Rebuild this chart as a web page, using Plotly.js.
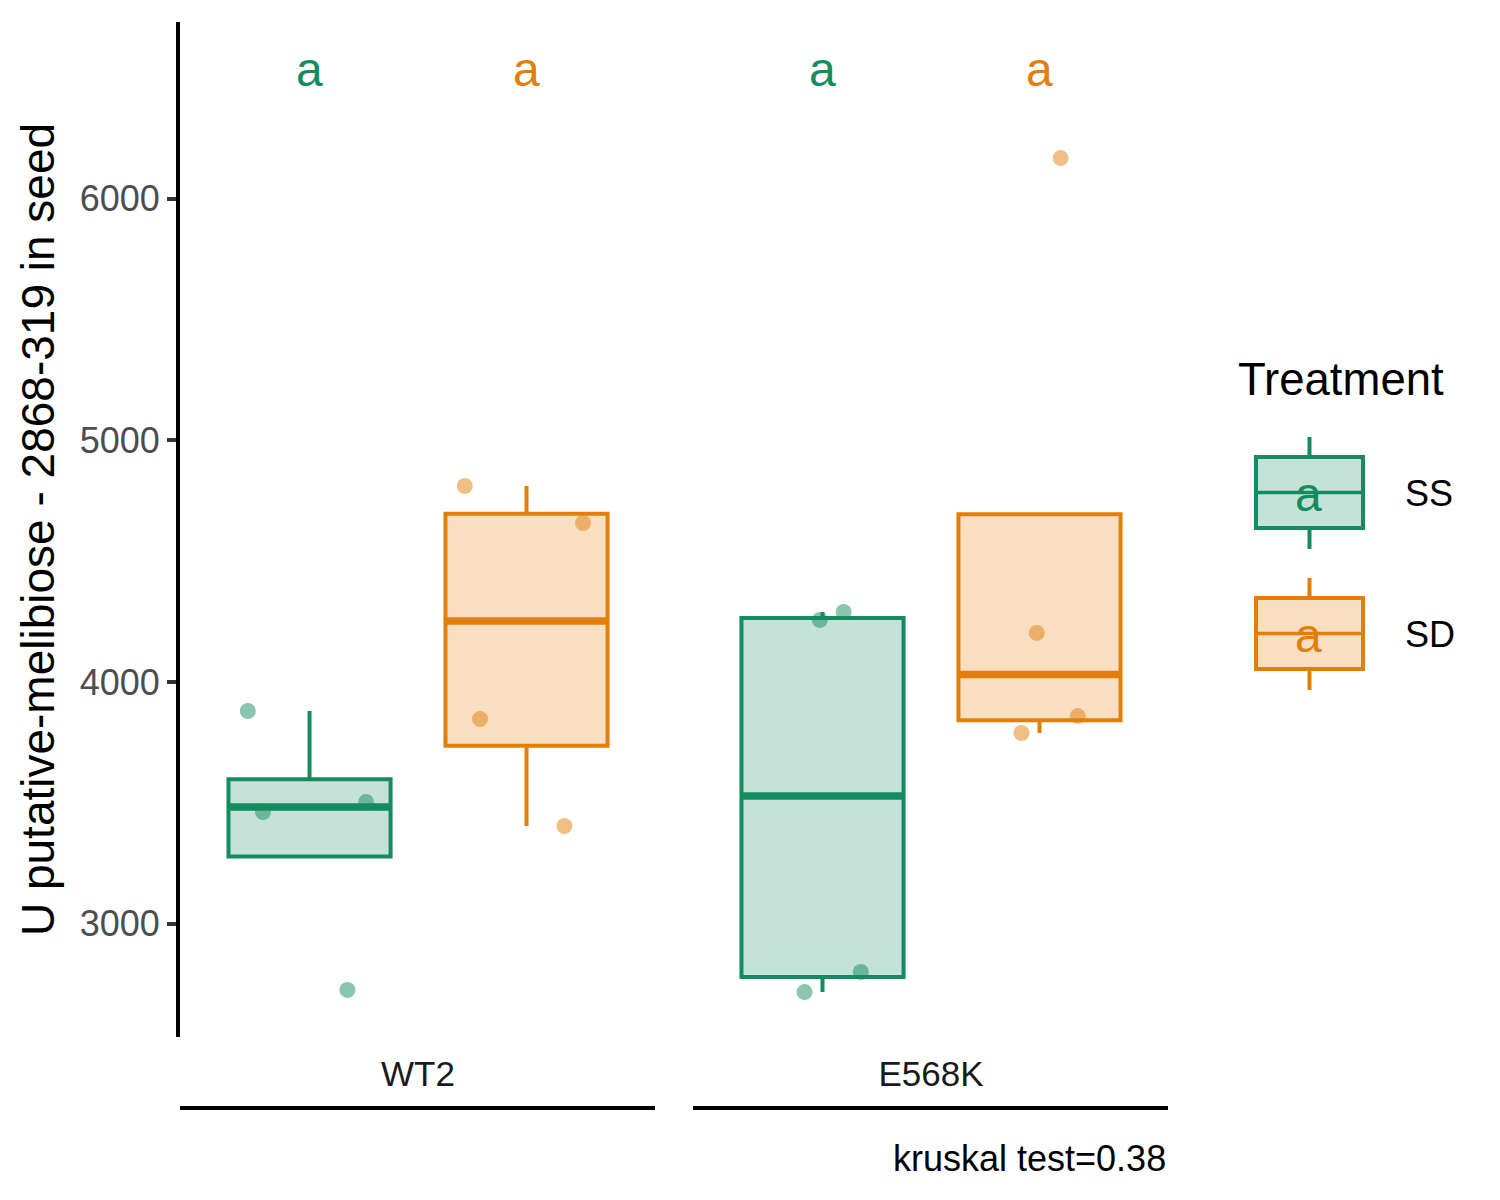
<!DOCTYPE html>
<html>
<head>
<meta charset="utf-8">
<script src="https://cdn.plot.ly/plotly-3.0.1.min.js"></script>
<style>
  html, body { margin: 0; padding: 0; background: #fff; }
  #chart { width: 1500px; height: 1200px; }
</style>
</head>
<body>
<div id="chart"></div>
<script>
// values
const genotypes = ['WT2', 'E568K'];
const treatments = ['SS', 'SD'];
const ssValues = [[2726, 3462, 3503, 3880], [2717, 2800, 4257, 4290]];
const sdValues = [[3404, 3847, 4658, 4811], [3789, 3859, 4203, 6168]];
const letterSS = ['a', 'a'];
const letterSD = ['a', 'a'];
const letterLevel = 6535;
const caption = 'kruskal test=0.38';
const yTitle = 'U putative-melibiose - 2868-319 in seed';

const colors = { SS: 'rgb(20,140,96)', SD: 'rgb(226,127,12)' };
const fills = { SS: 'rgba(20,140,96,0.25)', SD: 'rgba(226,127,12,0.25)' };
const dots = { SS: 'rgba(20,140,96,0.5)', SD: 'rgba(226,127,12,0.5)' };
const dodge = { SS: -0.2115, SD: 0.2115 };
const boxWidth = 0.316;
const FONT = 'Liberation Sans, Arial, Helvetica, sans-serif';

// ggplot style (type 7) quantiles
function quantile(sorted, p) {
  const h = (sorted.length - 1) * p;
  const lo = Math.floor(h), hi = Math.ceil(h);
  return sorted[lo] + (h - lo) * (sorted[hi] - sorted[lo]);
}

function boxStats(vals) {
  const s = vals.slice().sort((a, b) => a - b);
  const q1 = quantile(s, 0.25), med = quantile(s, 0.5), q3 = quantile(s, 0.75);
  const iqr = q3 - q1;
  const inside = s.filter(v => v >= q1 - 1.5 * iqr && v <= q3 + 1.5 * iqr);
  return { q1, med, q3, lo: Math.min(q1, inside[0]), hi: Math.max(q3, inside[inside.length - 1]) };
}

let traces = [];
let annotations = [];

treatments.forEach(t => {
  const values = t === 'SS' ? ssValues : sdValues;
  const letters = t === 'SS' ? letterSS : letterSD;
  const pos = genotypes.map((g, i) => i + dodge[t]);
  const stats = values.map(boxStats);

  traces.push({
    type: 'box', x: pos,
    q1: stats.map(s => s.q1), median: stats.map(s => s.med), q3: stats.map(s => s.q3),
    lowerfence: stats.map(s => s.lo), upperfence: stats.map(s => s.hi),
    width: boxWidth, whiskerwidth: 0, boxpoints: false,
    fillcolor: fills[t], line: { color: colors[t], width: 4 },
    hoverinfo: 'skip', showlegend: false,
  });

  // thicker median line, like ggplot's fatten
  traces.push({
    type: 'box', x: pos,
    q1: stats.map(s => s.med), median: stats.map(s => s.med), q3: stats.map(s => s.med),
    lowerfence: stats.map(s => s.med), upperfence: stats.map(s => s.med),
    width: boxWidth, whiskerwidth: 0, boxpoints: false,
    fillcolor: 'rgba(0,0,0,0)', line: { color: colors[t], width: 7.5 },
    hoverinfo: 'skip', showlegend: false,
  });

  // jittered raw points
  let px = [], py = [];
  values.forEach((vals, i) => vals.forEach(v => { px.push(pos[i]); py.push(v); }));
  traces.push({
    type: 'box', x: px, y: py,
    boxpoints: 'all', jitter: 0.9, pointpos: 0, width: boxWidth,
    fillcolor: 'rgba(0,0,0,0)', line: { width: 0, color: 'rgba(0,0,0,0)' },
    marker: { color: dots[t], size: 16, line: { width: 0 } },
    showlegend: false, name: t,
  });

  pos.forEach((x, i) => annotations.push({
    x: x, y: letterLevel, xref: 'x', yref: 'y', text: letters[i], showarrow: false,
    font: { family: FONT, size: 48, color: colors[t] }, yanchor: 'middle',
  }));
});

// pixel -> paper helpers for the hand-made legend and strip lines
const L = 180, R = 1168, T = 22, B = 1037;
const pxX = x => (x - L) / (R - L);
const pxY = y => (B - y) / (B - T);

let shapes = [];
// strip underlines
[[180, 655], [693, 1168]].forEach(([a, b]) => shapes.push({
  type: 'line', xref: 'paper', yref: 'paper', x0: pxX(a), x1: pxX(b), y0: pxY(1108), y1: pxY(1108),
  line: { color: 'black', width: 4 },
}));

// legend keys
const keyTop = { SS: 457, SD: 598 };
treatments.forEach(t => {
  const top = keyTop[t], bot = top + 71, mid = (top + bot) / 2;
  shapes.push({ type: 'rect', xref: 'paper', yref: 'paper', x0: pxX(1256), x1: pxX(1363), y0: pxY(bot), y1: pxY(top),
    fillcolor: fills[t], line: { color: colors[t], width: 4 } });
  shapes.push({ type: 'line', xref: 'paper', yref: 'paper', x0: pxX(1256), x1: pxX(1363), y0: pxY(mid), y1: pxY(mid),
    line: { color: colors[t], width: 3.5 } });
  shapes.push({ type: 'line', xref: 'paper', yref: 'paper', x0: pxX(1309.5), x1: pxX(1309.5), y0: pxY(top - 20), y1: pxY(top),
    line: { color: colors[t], width: 4 } });
  shapes.push({ type: 'line', xref: 'paper', yref: 'paper', x0: pxX(1309.5), x1: pxX(1309.5), y0: pxY(bot), y1: pxY(bot + 21),
    line: { color: colors[t], width: 4 } });
  annotations.push({ xref: 'paper', yref: 'paper', x: pxX(1308), y: pxY(mid + 2), text: 'a', showarrow: false,
    font: { family: FONT, size: 48, color: colors[t] }, xanchor: 'center', yanchor: 'middle' });
  annotations.push({ xref: 'paper', yref: 'paper', x: pxX(1403), y: pxY(mid + 1), text: t, showarrow: false,
    font: { family: FONT, size: 36, color: 'black' }, xanchor: 'left', yanchor: 'middle' });
});
annotations.push({ xref: 'paper', yref: 'paper', x: pxX(1236), y: pxY(379), text: 'Treatment', showarrow: false,
  font: { family: FONT, size: 45.5, color: 'black' }, xanchor: 'left', yanchor: 'middle' });
annotations.push({ xref: 'paper', yref: 'paper', x: 1, y: pxY(1158), text: caption, showarrow: false,
  font: { family: FONT, size: 36, color: 'black' }, xanchor: 'right', yanchor: 'middle' });

const layout = {
  width: 1500, height: 1200,
  margin: { l: L, r: 1500 - R, t: T, b: 1200 - B, pad: 0 },
  paper_bgcolor: 'white', plot_bgcolor: 'white',
  showlegend: false, boxmode: 'overlay',
  font: { family: FONT, color: 'black' },
  xaxis: {
    range: [-0.464, 1.462], tickvals: [0, 1], ticktext: genotypes,
    showline: false, showgrid: false, zeroline: false, ticks: '',
    tickfont: { size: 35, color: '#1a1a1a' }, ticklabelstandoff: 13,
  },
  yaxis: {
    range: [2531, 6731], tickvals: [3000, 4000, 5000, 6000],
    showline: true, linecolor: 'black', linewidth: 4,
    ticks: 'outside', ticklen: 9, tickwidth: 4, tickcolor: '#333',
    tickfont: { size: 36, color: '#4d4d4d' },
    showgrid: false, zeroline: false,
    title: { text: yTitle, font: { size: 46, color: 'black' }, standoff: 12 },
  },
  shapes: shapes,
  annotations: annotations,
};

Plotly.newPlot('chart', traces, layout, { displayModeBar: false, staticPlot: true });
</script>
</body>
</html>
